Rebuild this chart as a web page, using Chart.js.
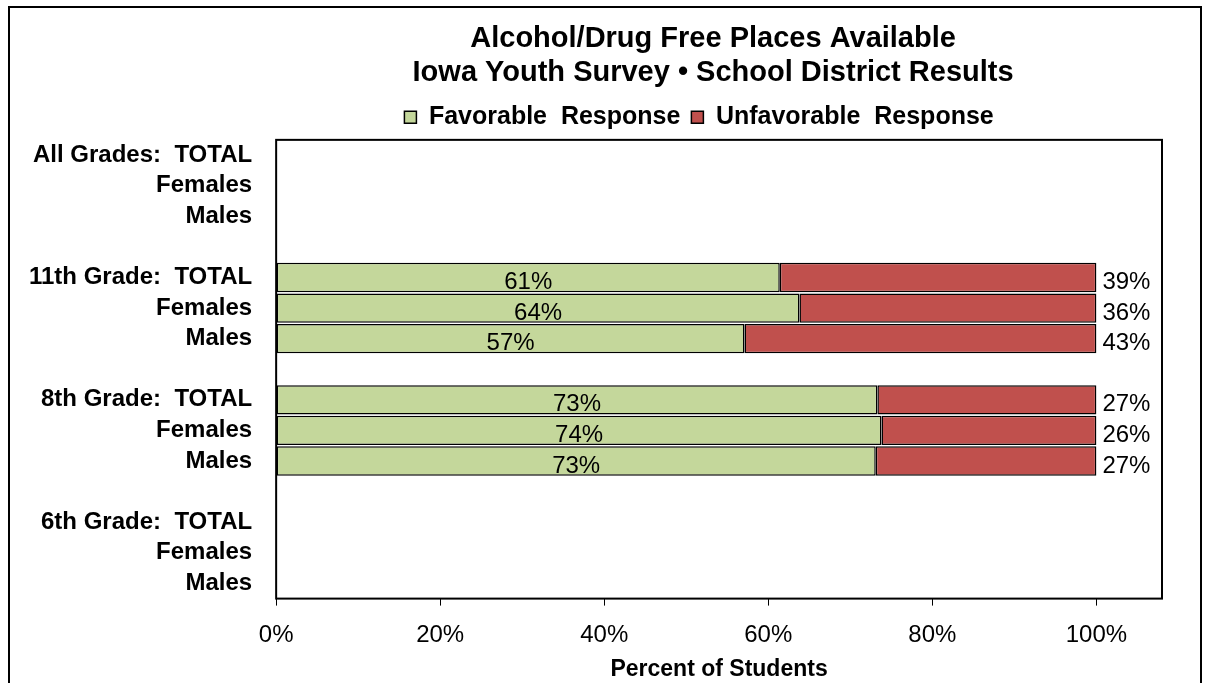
<!DOCTYPE html>
<html>
<head>
<meta charset="utf-8">
<script src="https://cdn.jsdelivr.net/npm/chart.js@4.4.1/dist/chart.umd.min.js"></script>
<style>
  body { margin: 0; background: #fff; }
  #frame { position: absolute; left: 8px; top: 6px; width: 1190px; height: 700px; border: 2px solid #000; }
  #wrap { position: absolute; left: 0; top: 0; width: 1206px; height: 683px; }
</style>
</head>
<body>
<div id="frame"></div>
<div id="wrap"><canvas id="chart" width="1206" height="683"></canvas></div>
<script>
/* --------------- Data --------------------- */
const categories = [
  "All Grades:  TOTAL", "Females", "Males", "",
  "11th Grade:  TOTAL", "Females", "Males", "",
  "8th Grade:  TOTAL", "Females", "Males", "",
  "6th Grade:  TOTAL", "Females", "Males",
];
const favorable = [null, null, null, null, 61.4, 63.8, 57.1, null, 73.3, 73.8, 73.1, null, null, null, null];
const unfavorable = [null, null, null, null, 38.6, 36.2, 42.9, null, 26.7, 26.2, 26.9, null, null, null, null];
const xTicks = [0, 20, 40, 60, 80, 100];

const FONT = "'Liberation Sans', Arial, sans-serif";

/* --------------- Bar value labels + plot frame --------------------- */
const barLabels = {
  id: "barLabels",
  afterLayout(chart) {
    // title and legend sit a little left of the plot centre in the original
    chart.legend.left -= 20;
    chart.legend.right -= 20;
    chart.titleBlock.left -= 6;
    chart.titleBlock.right -= 6;
  },
  afterDatasetsDraw(chart) {
    const ctx = chart.ctx;
    ctx.save();
    ctx.font = "24px " + FONT;
    ctx.fillStyle = "#000";
    ctx.textBaseline = "middle";
    chart.data.datasets.forEach((ds, i) => {
      chart.getDatasetMeta(i).data.forEach((bar, j) => {
        const v = ds.data[j];
        if (v == null) return;
        const txt = Math.round(v) + "%";
        if (i === 0) {
          ctx.textAlign = "center";
          ctx.fillText(txt, (bar.base + bar.x) / 2, bar.y + 5);
        } else {
          ctx.textAlign = "left";
          ctx.fillText(txt, bar.x + 6, bar.y + 5);
        }
      });
    });
    const a = chart.chartArea;
    ctx.lineWidth = 2;
    ctx.strokeStyle = "#000";
    ctx.strokeRect(a.left, a.top, a.right - a.left, a.bottom - a.top);
    ctx.restore();
  },
};

new Chart(document.getElementById("chart"), {
  type: "bar",
  plugins: [barLabels],
  data: {
    labels: categories,
    datasets: [
      {
        label: "Favorable  Response",
        data: favorable,
        backgroundColor: "#C4D79B",
        borderColor: "#000",
        borderWidth: 1.5,
        borderSkipped: false,
      },
      {
        label: "Unfavorable  Response",
        data: unfavorable,
        backgroundColor: "#C0504D",
        borderColor: "#000",
        borderWidth: 1.5,
        borderSkipped: false,
      },
    ],
  },
  options: {
    indexAxis: "y",
    responsive: false,
    animation: false,
    layout: { padding: { left: 13, right: 44, top: 2, bottom: 0 } },
    datasets: { bar: { barPercentage: 0.96, categoryPercentage: 1 } },
    scales: {
      x: {
        stacked: true,
        min: 0,
        max: 108,
        afterBuildTicks: (axis) => {
          axis.ticks = xTicks.map((v) => ({ value: v }));
        },
        grid: { drawOnChartArea: false, drawTicks: true, tickLength: 7, color: "#000", lineWidth: 1 },
        border: { display: false },
        ticks: {
          color: "#000",
          font: { family: FONT, size: 24 },
          padding: 15,
          callback: (v) => v + "%",
        },
        title: {
          display: true,
          text: "Percent of Students",
          color: "#000",
          font: { family: FONT, size: 23, weight: "bold" },
          padding: { top: -9, bottom: 0 },
        },
      },
      y: {
        stacked: true,
        grid: { display: false },
        border: { display: false },
        ticks: {
          color: "#000",
          font: { family: FONT, size: 24, weight: "bold" },
          padding: 16,
          autoSkip: false,
        },
      },
    },
    plugins: {
      tooltip: { enabled: false },
      title: {
        display: true,
        fullSize: false,
        text: ["Alcohol/Drug Free Places Available", "Iowa Youth Survey \u2022 School District Results"],
        color: "#000",
        font: { family: FONT, size: 29, weight: "bold", lineHeight: 1.17 },
        padding: { top: 20, bottom: 4 },
      },
      legend: {
        display: true,
        fullSize: false,
        labels: {
          color: "#000",
          font: { family: FONT, size: 25, weight: "bold" },
          boxWidth: 12,
          boxHeight: 12,
          padding: 11,
        },
      },
    },
  },
});
</script>
</body>
</html>
